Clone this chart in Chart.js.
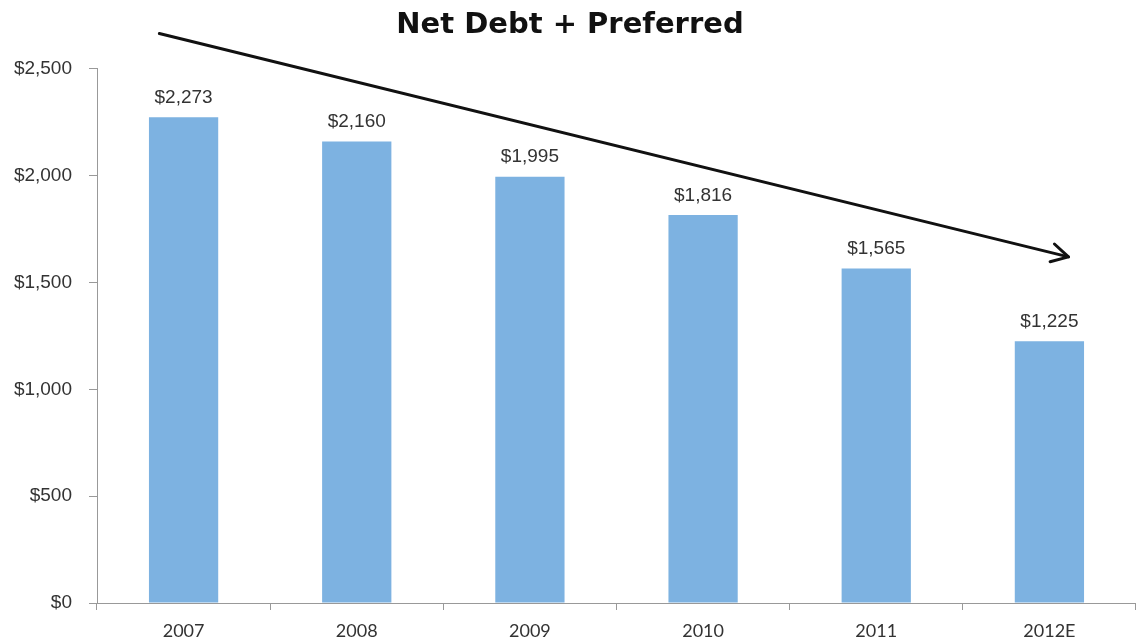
<!DOCTYPE html>
<html><head><meta charset="utf-8">
<script src="https://cdn.jsdelivr.net/npm/chart.js@4"></script>
<style>html,body{margin:0;padding:0;background:#fff}#wrap{width:1136px;height:643px}</style>
</head><body><div id="wrap"><canvas id="c"></canvas></div>
<script>
const categories = ['2007','2008','2009','2010','2011','2012E'];
const values = [2273, 2160, 1995, 1816, 1565, 1225];
const valueLabels = ['$2,273','$2,160','$1,995','$1,816','$1,565','$1,225'];
const yTicks = [0, 500, 1000, 1500, 2000, 2500];
const yTickLabels = ['$0','$500','$1,000','$1,500','$2,000','$2,500'];
const arrowFrom = [-0.14, 2665];
const arrowTo = [5.11, 1620];

const extras = {
  id: 'extras',
  afterDatasetsDraw(chart) {
    const ctx = chart.ctx;
    const meta = chart.getDatasetMeta(0);
    ctx.save();
    ctx.font = '19px "Liberation Sans", Arial, sans-serif';
    ctx.fillStyle = '#333';
    ctx.textAlign = 'center';
    ctx.textBaseline = 'bottom';
    meta.data.forEach((bar, i) => {
      ctx.fillText(valueLabels[i], bar.x, bar.y - 10);
    });
    const xs = chart.scales.x, ys = chart.scales.y;
    const x1 = xs.getPixelForValue(arrowFrom[0]), y1 = ys.getPixelForValue(arrowFrom[1]);
    const x2 = xs.getPixelForValue(arrowTo[0]), y2 = ys.getPixelForValue(arrowTo[1]);
    ctx.strokeStyle = '#111';
    ctx.lineWidth = 3;
    ctx.lineCap = 'round';
    ctx.lineJoin = 'round';
    ctx.beginPath();
    ctx.moveTo(x1, y1); ctx.lineTo(x2, y2); ctx.stroke();
    const ang = Math.atan2(y2 - y1, x2 - x1);
    const L = 19, a = 0.5;
    ctx.beginPath();
    ctx.moveTo(x2 - L * Math.cos(ang - a), y2 - L * Math.sin(ang - a));
    ctx.lineTo(x2, y2);
    ctx.lineTo(x2 - L * Math.cos(ang + a), y2 - L * Math.sin(ang + a));
    ctx.stroke();
    ctx.restore();
  }
};

new Chart(document.getElementById('c'), {
  type: 'bar',
  data: {
    labels: categories,
    datasets: [{ data: values, backgroundColor: '#7DB2E1', barPercentage: 0.4, categoryPercentage: 1 }]
  },
  options: {
    responsive: true, maintainAspectRatio: false, animation: false,
    layout: { padding: { left: 0, right: -4, top: 0, bottom: 0 } },
    plugins: {
      legend: { display: false }, tooltip: { enabled: false },
      title: { display: true, text: 'Net Debt + Preferred', color: '#111',
        font: { family: '"DejaVu Sans", sans-serif', size: 29, weight: 'bold' },
        padding: { top: 8, bottom: 26 } }
    },
    scales: {
      x: {
        afterFit(s) { s.height = 40; },
        grid: { display: true, drawOnChartArea: false, tickLength: 7, color: '#999', offset: true },
        border: { color: '#999' },
        ticks: { color: '#333', padding: 10, font: { family: 'Lato, sans-serif', size: 18 } }
      },
      y: {
        min: 0, max: 2500,
        afterFit(s) { s.width = 97; },
        afterBuildTicks(s) { s.ticks = yTicks.map(v => ({ value: v })); },
        grid: { display: true, drawOnChartArea: false, tickLength: 8, color: '#999' },
        border: { color: '#999' },
        ticks: { color: '#333', padding: 17,
          font: { family: '"Liberation Sans", Arial, sans-serif', size: 19 },
          callback: (v) => yTickLabels[yTicks.indexOf(v)] }
      }
    }
  },
  plugins: [extras]
});
</script></body></html>
